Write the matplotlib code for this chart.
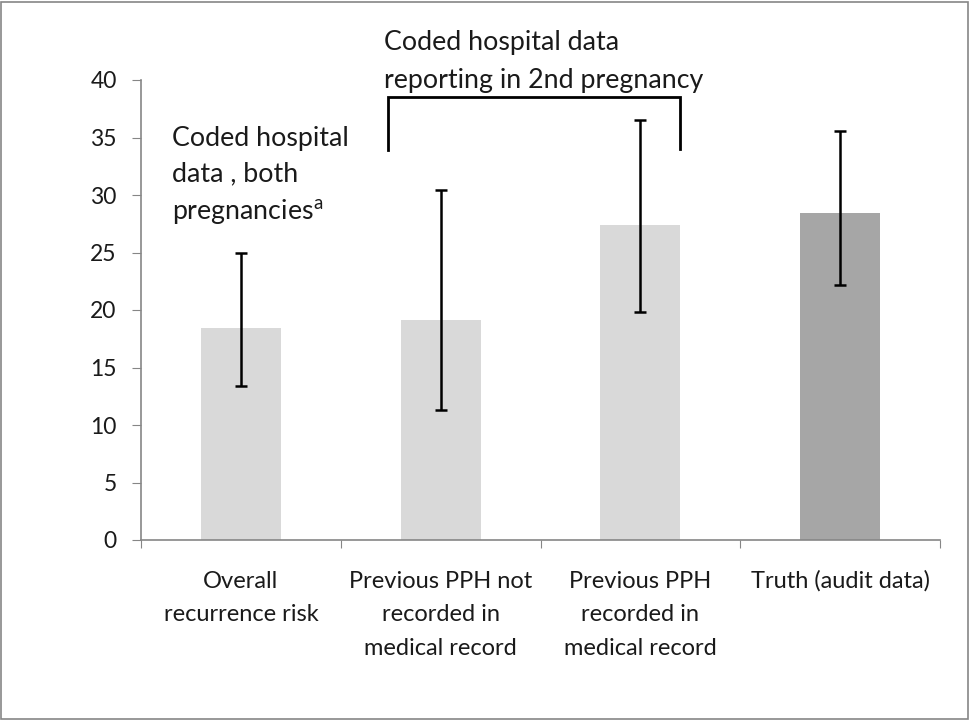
import matplotlib
matplotlib.use("Agg")
import matplotlib.pyplot as plt
from matplotlib.patches import Rectangle

plt.rcParams['font.family'] = ['Lato', 'DejaVu Sans']
plt.rcParams['mathtext.fontset'] = 'custom'
plt.rcParams['mathtext.rm'] = 'Lato'
plt.rcParams['mathtext.it'] = 'Lato'

categories = ["Overall\nrecurrence risk",
              "Previous PPH not\nrecorded in\nmedical record",
              "Previous PPH\nrecorded in\nmedical record",
              "Truth (audit data)"]
values = [18.4, 19.1, 27.4, 28.4]
ci_low = [13.4, 11.3, 19.8, 22.2]
ci_high = [25.0, 30.4, 36.5, 35.6]
colors = ["#d9d9d9", "#d9d9d9", "#d9d9d9", "#a6a6a6"]
yticks = [0, 5, 10, 15, 20, 25, 30, 35, 40]

fig = plt.figure(figsize=(9.7, 7.2), dpi=100)
ax = fig.add_axes([141/970, 180/720, 799/970, 460/720])

x = list(range(len(categories)))
err_lo = [v - l for v, l in zip(values, ci_low)]
err_hi = [h - v for v, h in zip(values, ci_high)]
ax.bar(x, values, width=0.4, color=colors, zorder=2)
ax.errorbar(x, values, yerr=[err_lo, err_hi], fmt='none', ecolor='black',
            elinewidth=1.8, capsize=4.5, capthick=1.8, zorder=3)

ax.set_xlim(-0.5, 3.5)
ax.set_ylim(0, 40)
ax.set_yticks(yticks)
ax.set_yticklabels([str(t) for t in yticks], fontsize=16.5, color='#1a1a1a')
ax.set_xticks([i - 0.5 for i in range(len(categories) + 1)])
ax.set_xticklabels([])
ax.set_xticks(x, minor=True)
ax.set_xticklabels(categories, minor=True, fontsize=17, color='#1a1a1a',
                   linespacing=1.74, va='top')
ax.tick_params(axis='x', which='minor', length=0, pad=22)
ax.tick_params(axis='x', which='major', length=5.8, color='#868686', direction='out')
ax.tick_params(axis='y', length=6.5, color='#868686', direction='out', pad=11)
for s in ['top', 'right']:
    ax.spines[s].set_visible(False)
for s in ['left', 'bottom']:
    ax.spines[s].set_color('#868686')
    ax.spines[s].set_linewidth(1.2)

# bracket annotation
bx0, bx1 = 1 - 0.265, 2 + 0.2
ax.plot([bx0, bx0, bx1, bx1], [33.9, 38.5, 38.5, 34.0], color='black',
        lw=2, clip_on=False, solid_joinstyle='miter')
ax.text(bx0 - 0.02, 41.6, "Coded hospital data\nreporting in 2nd pregnancy",
        fontsize=19.3, ha='left', va='center', linespacing=1.63,
        color='#1a1a1a', clip_on=False)
ax.text(-0.345, 31.65, "Coded hospital\ndata , both\npregnancies$^{\\mathrm{a}}$",
        fontsize=19.3, ha='left', va='center', linespacing=1.52,
        color='#1a1a1a')

fig.patches.append(Rectangle((1/970, 1/720), 967/970, 717/720,
                             transform=fig.transFigure, fill=False,
                             edgecolor='#868686', lw=1.2))
fig.savefig("out.png", dpi=100)
